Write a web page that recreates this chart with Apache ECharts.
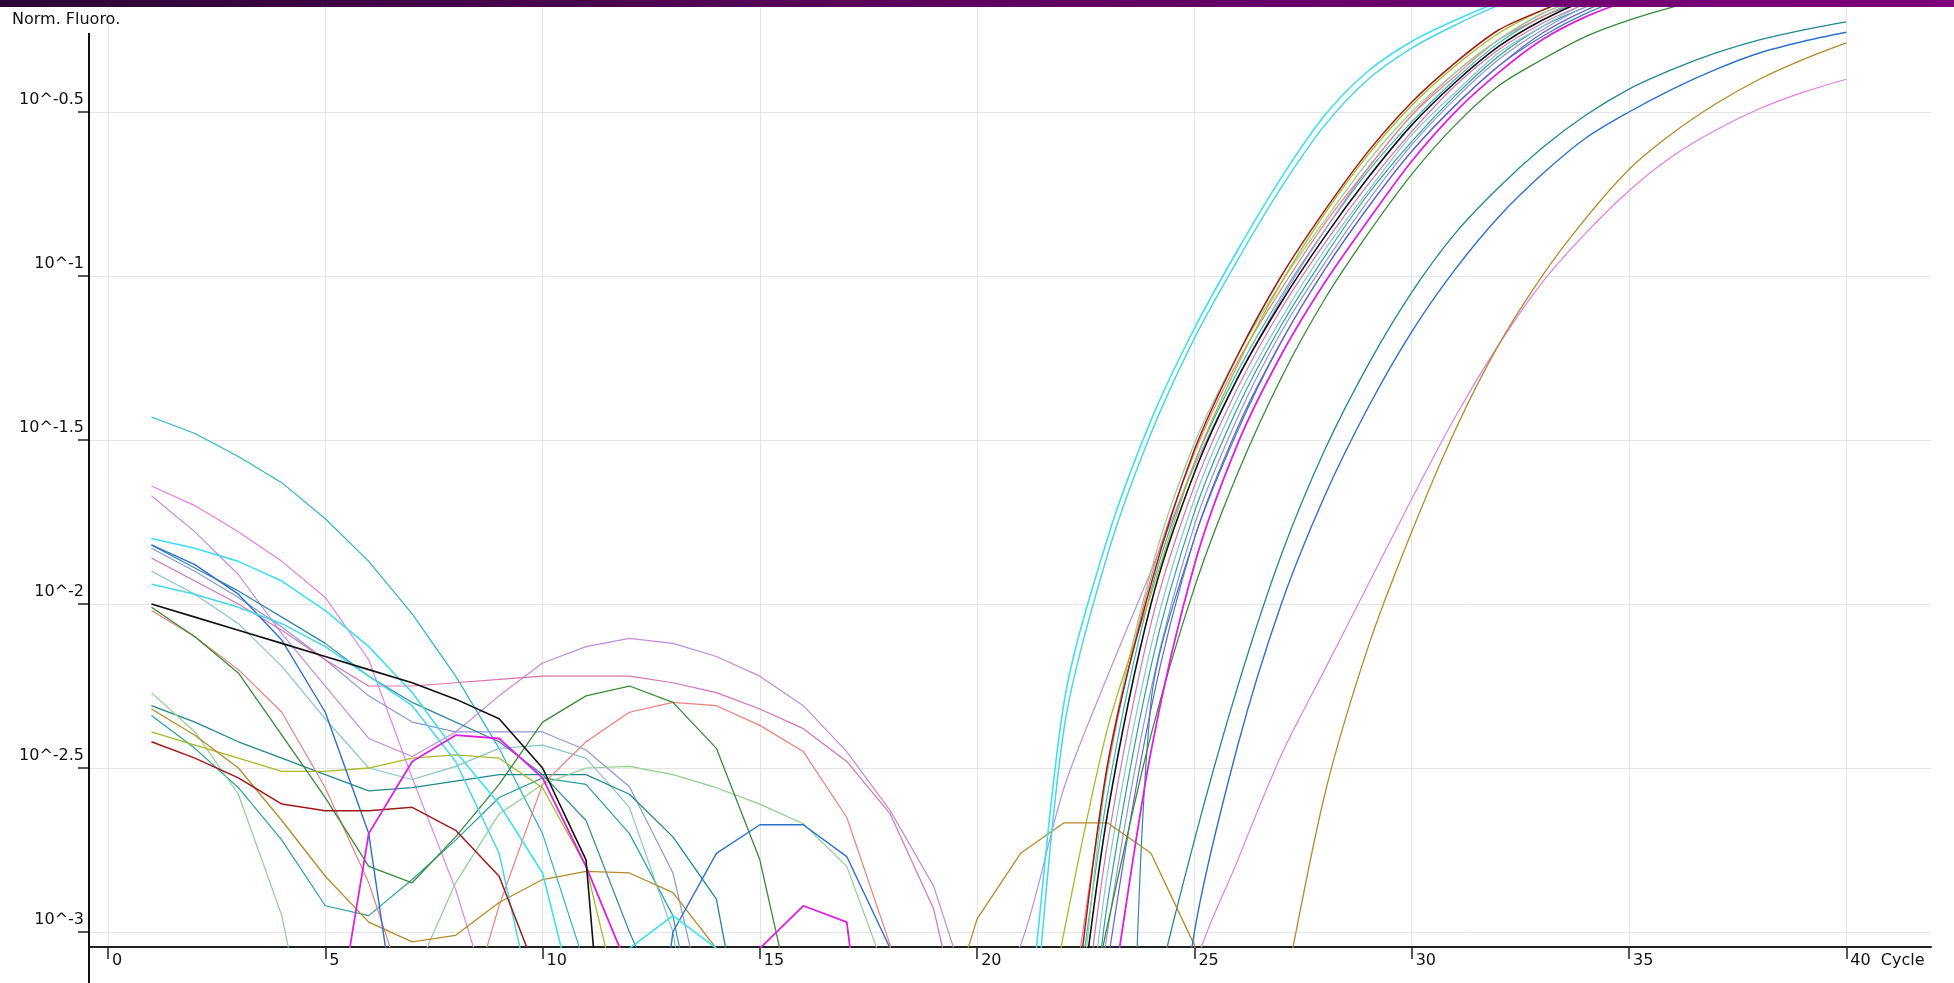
<!DOCTYPE html>
<html>
<head>
<meta charset="utf-8">
<script src="https://cdn.jsdelivr.net/npm/echarts@6/dist/echarts.min.js"></script>
<style>
html,body{margin:0;padding:0;background:#fff;}
#chart{width:1954px;height:983px;}
</style>
</head>
<body>
<div id="chart"></div>
<script>
// ---- data (log10 of normalised fluorescence; -4 = below the visible range) ----
const cycles = [1,2,3,4,5,6,7,8,9,10,11,12,13,14,15,16,17,18,19,20,21,22,23,24,25,26,27,28,29,30,31,32,33,34,35,36,37,38,39,40];
const xTicks = [0,5,10,15,20,25,30,35,40];
const yTicks = [-3,-2.5,-2,-1.5,-1,-0.5];

const tealCyan = [-1.43,-1.48,-1.55,-1.63,-1.74,-1.87,-2.03,-2.22,-2.44,-2.70,-3.11,-4,-4,-4,-4,-4,-4,-4,-4,-4,-4,-3.46,-2.58,-1.96,-1.57,-1.29,-1.06,-0.86,-0.68,-0.53,-0.40,-0.29,-0.21,-0.16,-0.12,-0.09,-0.07,-0.06,-0.05,-0.04];
const violet = [-1.64,-1.70,-1.78,-1.87,-1.98,-2.17,-2.53,-2.87,-3.30,-4,-4,-4,-4,-4,-4,-4,-4,-4,-4,-4,-4,-4,-4,-4,-3.12,-2.78,-2.46,-2.20,-1.94,-1.68,-1.43,-1.21,-1.02,-0.87,-0.74,-0.635,-0.555,-0.49,-0.44,-0.40];
const orchid = [-1.67,-1.78,-1.91,-2.09,-2.25,-2.41,-2.465,-2.39,-2.28,-2.18,-2.13,-2.105,-2.12,-2.16,-2.22,-2.31,-2.45,-2.63,-2.86,-3.27,-3.04,-2.56,-2.22,-1.90,-1.58,-1.31,-1.07,-0.86,-0.67,-0.51,-0.38,-0.28,-0.20,-0.15,-0.11,-0.08,-0.06,-0.05,-0.04,-0.03];
const cyanA = [-1.80,-1.83,-1.87,-1.93,-2.02,-2.13,-2.27,-2.45,-2.61,-2.82,-3.35,-3.05,-2.95,-3.05,-4,-4,-4,-4,-4,-4,-3.45,-2.30,-1.80,-1.44,-1.16,-0.92,-0.70,-0.51,-0.375,-0.285,-0.22,-0.165,-0.125,-0.095,-0.07,-0.05,-0.04,-0.03,-0.02,-0.02];
const cyanB = [-1.94,-1.97,-2.01,-2.06,-2.13,-2.22,-2.31,-2.48,-2.76,-3.36,-4,-4,-4,-4,-4,-4,-4,-4,-4,-4,-3.60,-2.38,-1.85,-1.48,-1.19,-0.95,-0.73,-0.54,-0.40,-0.305,-0.235,-0.175,-0.13,-0.10,-0.08,-0.06,-0.05,-0.04,-0.03,-0.03];
const blue = [-1.82,-1.88,-1.97,-2.11,-2.33,-2.70,-3.60,-4,-4,-4,-4,-4,-3.00,-2.76,-2.673,-2.673,-2.77,-3.05,-4,-4,-4,-4,-4,-4,-3.00,-2.43,-2.00,-1.67,-1.40,-1.17,-0.98,-0.82,-0.69,-0.58,-0.50,-0.43,-0.37,-0.32,-0.285,-0.257];
const steelTeal = [-1.82,-1.89,-1.96,-2.04,-2.12,-2.22,-2.30,-2.36,-2.42,-2.52,-2.66,-3.00,-3.30,-4,-4,-4,-4,-4,-4,-4,-4,-4.5,-4.5,-2.30,-1.80,-1.47,-1.20,-0.98,-0.79,-0.62,-0.48,-0.36,-0.27,-0.20,-0.15,-0.12,-0.10,-0.08,-0.07,-0.06];
const teal2 = [-2.31,-2.36,-2.42,-2.47,-2.52,-2.57,-2.56,-2.54,-2.52,-2.52,-2.52,-2.58,-2.71,-2.90,-3.60,-4,-4,-4,-4,-4,-4,-4,-4,-3.26,-2.72,-2.25,-1.85,-1.53,-1.27,-1.05,-0.87,-0.73,-0.61,-0.51,-0.43,-0.37,-0.32,-0.28,-0.25,-0.225];
const teal3 = [-2.34,-2.44,-2.56,-2.72,-2.92,-2.95,-2.84,-2.72,-2.59,-2.53,-2.55,-2.70,-2.95,-3.60,-4,-4,-4,-4,-4,-4,-4,-3.90,-2.91,-2.19,-1.72,-1.40,-1.15,-0.94,-0.75,-0.59,-0.45,-0.33,-0.24,-0.18,-0.13,-0.10,-0.08,-0.07,-0.06,-0.05];
const pinkMauve = [-1.86,-1.93,-2.00,-2.08,-2.17,-2.25,-2.25,-2.24,-2.23,-2.22,-2.22,-2.22,-2.24,-2.27,-2.32,-2.38,-2.48,-2.64,-2.93,-3.51,-4,-3.65,-2.73,-2.06,-1.64,-1.34,-1.10,-0.90,-0.72,-0.56,-0.42,-0.31,-0.23,-0.17,-0.12,-0.09,-0.07,-0.06,-0.05,-0.04];
const lightTeal = [-1.90,-1.97,-2.06,-2.19,-2.35,-2.50,-2.535,-2.495,-2.44,-2.43,-2.47,-2.62,-3.00,-3.80,-4,-4,-4,-4,-4,-4,-4,-3.80,-2.82,-2.13,-1.68,-1.37,-1.13,-0.92,-0.74,-0.57,-0.44,-0.32,-0.24,-0.17,-0.13,-0.10,-0.08,-0.06,-0.05,-0.04];
const periwinkle = [-1.83,-1.90,-1.98,-2.07,-2.17,-2.28,-2.36,-2.39,-2.39,-2.39,-2.445,-2.557,-2.82,-3.39,-4,-4,-4,-4,-4,-4,-4,-4,-3.00,-2.26,-1.76,-1.43,-1.17,-0.96,-0.77,-0.60,-0.46,-0.34,-0.25,-0.18,-0.14,-0.11,-0.09,-0.07,-0.06,-0.05];
const darkGreen = [-2.01,-2.10,-2.21,-2.40,-2.59,-2.80,-2.85,-2.71,-2.55,-2.36,-2.28,-2.25,-2.30,-2.44,-2.78,-3.37,-4,-4,-4,-4,-4,-3.60,-2.98,-2.40,-1.95,-1.60,-1.31,-1.07,-0.87,-0.69,-0.54,-0.42,-0.34,-0.27,-0.22,-0.18,-0.15,-0.13,-0.11,-0.10];
const salmon = [-2.02,-2.10,-2.20,-2.33,-2.56,-2.85,-3.25,-3.37,-2.92,-2.55,-2.42,-2.33,-2.30,-2.31,-2.37,-2.45,-2.65,-3.04,-3.80,-4,-4,-3.37,-2.51,-1.92,-1.54,-1.26,-1.04,-0.84,-0.67,-0.51,-0.39,-0.28,-0.21,-0.15,-0.11,-0.08,-0.06,-0.05,-0.04,-0.03];
const lightGreen = [-2.27,-2.39,-2.58,-2.95,-3.60,-3.60,-3.15,-2.85,-2.64,-2.55,-2.50,-2.495,-2.52,-2.56,-2.61,-2.67,-2.80,-3.16,-4,-4,-4,-3.60,-2.50,-1.90,-1.51,-1.24,-1.02,-0.83,-0.65,-0.50,-0.38,-0.28,-0.20,-0.15,-0.11,-0.08,-0.06,-0.05,-0.04,-0.03];
const yellowGreen = [-2.39,-2.43,-2.47,-2.51,-2.51,-2.50,-2.47,-2.46,-2.47,-2.56,-2.80,-3.35,-4,-4,-4,-4,-4,-4,-4,-4,-3.70,-3.00,-2.38,-1.97,-1.57,-1.27,-1.02,-0.81,-0.63,-0.48,-0.36,-0.26,-0.19,-0.14,-0.11,-0.08,-0.06,-0.05,-0.04,-0.03];
const darkRed = [-2.42,-2.47,-2.53,-2.61,-2.63,-2.63,-2.62,-2.69,-2.83,-3.17,-4,-4,-4,-4,-4,-4,-4,-4,-4,-4,-4,-3.45,-2.49,-1.94,-1.53,-1.24,-1.00,-0.80,-0.62,-0.47,-0.35,-0.25,-0.19,-0.14,-0.11,-0.08,-0.06,-0.05,-0.04,-0.03];
const magenta = [-4,-4,-4,-4,-3.50,-2.70,-2.48,-2.40,-2.41,-2.53,-2.80,-3.12,-4,-4,-3.05,-2.92,-2.97,-4,-4,-4,-4,-4,-3.28,-2.45,-1.88,-1.51,-1.24,-1.02,-0.83,-0.65,-0.50,-0.38,-0.28,-0.21,-0.16,-0.12,-0.10,-0.08,-0.07,-0.06];
const brownOlive = [-2.32,-2.40,-2.50,-2.66,-2.83,-2.97,-3.03,-3.01,-2.91,-2.84,-2.815,-2.82,-2.88,-3.05,-3.60,-4,-4,-4,-3.39,-2.96,-2.76,-2.667,-2.667,-2.76,-3.04,-3.80,-3.22,-2.58,-2.13,-1.78,-1.47,-1.21,-1.00,-0.825,-0.675,-0.565,-0.475,-0.40,-0.34,-0.289];
const slateBlue = [-4,-4,-4,-4,-4,-4,-4,-4,-4,-4,-4,-4,-4,-4,-4,-4,-4,-4,-4,-4,-4,-4.10,-3.10,-2.32,-1.80,-1.46,-1.20,-0.98,-0.79,-0.62,-0.48,-0.36,-0.26,-0.19,-0.14,-0.11,-0.09,-0.07,-0.06,-0.05];
const black = [-2.00,-2.04,-2.08,-2.12,-2.16,-2.20,-2.24,-2.29,-2.35,-2.50,-2.78,-4.34,-4,-4,-4,-4,-4,-4,-4,-4,-4,-3.55,-2.64,-2.00,-1.60,-1.31,-1.08,-0.88,-0.70,-0.54,-0.41,-0.30,-0.22,-0.16,-0.12,-0.09,-0.07,-0.06,-0.05,-0.04];

// first cycle of the amplification phase for each well (drawn smoothed)
const ampStart = {
  tealCyan: 21, violet: 24, orchid: 20, cyanA: 20, cyanB: 20, blue: 24, steelTeal: 22,
  teal2: 23, teal3: 21, pinkMauve: 21, lightTeal: 21, periwinkle: 22, darkGreen: 21,
  salmon: 21, lightGreen: 21, yellowGreen: 20, darkRed: 21, magenta: 22, brownOlive: 26,
  slateBlue: 21, black: 21
};

// ---- styles ----
const wells = [
  ['tealCyan', tealCyan, '#2fb4c6', 1.2],
  ['violet', violet, '#e57ee5', 1.2],
  ['orchid', orchid, '#c48bdb', 1.2],
  ['teal3', teal3, '#2e9e9e', 1.2],
  ['lightTeal', lightTeal, '#86c6c6', 1.2],
  ['periwinkle', periwinkle, '#8c98d4', 1.2],
  ['pinkMauve', pinkMauve, '#d673b2', 1.2],
  ['steelTeal', steelTeal, '#3486a8', 1.2],
  ['teal2', teal2, '#23878f', 1.3],
  ['salmon', salmon, '#ef7f7a', 1.2],
  ['lightGreen', lightGreen, '#8ed08e', 1.2],
  ['yellowGreen', yellowGreen, '#a9b928', 1.3],
  ['brownOlive', brownOlive, '#b58a2a', 1.3],
  ['slateBlue', slateBlue, '#6b5ed8', 1.2],
  ['darkGreen', darkGreen, '#3a8a3a', 1.3],
  ['blue', blue, '#2f70cf', 1.4],
  ['cyanA', cyanA, '#3ee0ee', 1.6],
  ['cyanB', cyanB, '#45d8e8', 1.5],
  ['darkRed', darkRed, '#9e1a1a', 1.5],
  ['magenta', magenta, '#e020e0', 1.8],
  ['black', black, '#111111', 1.6]
];

const FONT = 'DejaVu Sans';
const chart = echarts.init(document.getElementById('chart'), null, {renderer: 'canvas'});

function pts(arr, from, to) {
  const out = [];
  for (let i = 0; i < cycles.length; i++) {
    if (cycles[i] >= from && cycles[i] <= to) out.push([cycles[i], arr[i]]);
  }
  return out;
}

const series = [];
wells.forEach(function (w) {
  const k = ampStart[w[0]];
  const common = {
    type: 'line', showSymbol: false, symbol: 'none', clip: true,
    lineStyle: {color: w[2], width: w[3]}, itemStyle: {color: w[2]},
    emphasis: {disabled: true}, silent: true
  };
  series.push(Object.assign({name: w[0] + ' baseline', data: pts(w[1], 1, k), smooth: false}, common));
  series.push(Object.assign({name: w[0] + ' amplification', data: pts(w[1], k, 40), smooth: 0.3}, common));
});

chart.setOption({
  animation: false,
  backgroundColor: '#ffffff',
  title: {
    text: 'Norm. Fluoro.',
    left: 12, top: 12, padding: 0,
    textStyle: {fontFamily: FONT, fontSize: 16, fontWeight: 'normal', color: '#111'}
  },
  grid: {left: 89, right: 23, top: 0, bottom: 36, containLabel: false},
  xAxis: {
    type: 'value',
    min: -0.437,
    max: 41.95,
    axisLine: {show: true, onZero: false, lineStyle: {color: '#222', width: 2}},
    axisTick: {show: true, length: 12, customValues: xTicks, lineStyle: {color: '#222', width: 1.5}},
    axisLabel: {
      customValues: xTicks,
      align: 'left',
      margin: 6,
      padding: [0, 0, 0, 4],
      color: '#111',
      fontFamily: FONT,
      fontSize: 16,
      formatter: function (v) { return v === 40 ? '40  Cycle' : String(v); }
    },
    splitLine: {show: true, customValues: xTicks, lineStyle: {color: '#e4e4e4', width: 1}}
  },
  yAxis: {
    type: 'value',
    min: -3.0457,
    max: -0.1585,
    axisLine: {show: false, onZero: false},
    axisTick: {show: true, length: 11, customValues: yTicks, lineStyle: {color: '#222', width: 1.5}},
    axisLabel: {
      customValues: yTicks,
      margin: 5,
      verticalAlign: 'bottom',
      lineHeight: 16,
      padding: [0, 0, 4, 0],
      color: '#111',
      fontFamily: FONT,
      fontSize: 16,
      formatter: function (v) { return '10^' + v; }
    },
    splitLine: {show: true, customValues: yTicks, lineStyle: {color: '#e4e4e4', width: 1}}
  },
  graphic: [
    {
      type: 'line', z: 50,
      shape: {x1: 89, y1: 33, x2: 89, y2: 983},
      style: {stroke: '#111', lineWidth: 2}
    },
    {
      type: 'rect', z: 60,
      shape: {x: 0, y: 0, width: 1954, height: 7},
      style: {
        fill: new echarts.graphic.LinearGradient(0, 0, 1, 0, [
          {offset: 0, color: '#2c0736'},
          {offset: 0.5, color: '#5e005e'},
          {offset: 1, color: '#7e007c'}
        ])
      }
    }
  ],
  series: series
});
</script>
</body>
</html>
